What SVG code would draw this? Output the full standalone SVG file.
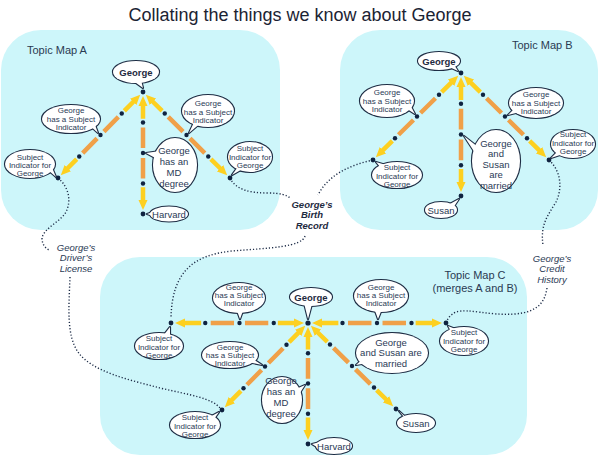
<svg xmlns="http://www.w3.org/2000/svg" width="600" height="460" viewBox="0 0 600 460">
<defs>
<style>
.panel{fill:#cdf6fa}
.title{font-family:"Liberation Sans",Arial,sans-serif;font-size:18px;fill:#1b2333;text-anchor:middle}
.lbl{font-family:"Liberation Sans",Arial,sans-serif;font-size:11px;fill:#2a3a52}
.y{fill:none;stroke:#fdd020;stroke-width:4.5;stroke-dasharray:0 9 13 56 13 9;marker-start:url(#ah);marker-end:url(#ah)}
.o{fill:none;stroke:#f0a048;stroke-width:4.5;stroke-dasharray:0 29 17 8 17 29}
.dt{fill:none;stroke:#1e2d48;stroke-width:1.4;stroke-dasharray:1.2 2}
.pt{fill:#0f2340}
.so{fill:#fff;stroke:#1e2d44;stroke-width:2.2;stroke-linejoin:round}
.sf{fill:#fff;stroke:none}
.t8{font-family:"Liberation Sans",Arial,sans-serif;font-size:8px;fill:#2a3a55;text-anchor:middle}
.t9{font-family:"Liberation Sans",Arial,sans-serif;font-size:9.5px;fill:#2a3a55;text-anchor:middle}
.tb{font-family:"Liberation Sans",Arial,sans-serif;font-size:9.5px;font-weight:bold;fill:#1e2a40;text-anchor:middle}
.ti{font-family:"Liberation Sans",Arial,sans-serif;font-size:9.5px;font-style:italic;fill:#2a3a55;text-anchor:middle}
.tbi{font-family:"Liberation Sans",Arial,sans-serif;font-size:9.5px;font-style:italic;font-weight:bold;fill:#1e2a40;text-anchor:middle}
</style>
<marker id="ah" viewBox="0 0 10 10" refX="14" refY="5" markerWidth="10" markerHeight="10" markerUnits="userSpaceOnUse" orient="auto-start-reverse">
<path d="M0,0.5 L10,5 L0,9.5 z" fill="#fdd020"/>
</marker>
</defs>

<rect width="600" height="460" fill="#fff"/>
<text class="title" x="300" y="21">Collating the things we know about George</text>

<g id="panels">
<rect class="panel" x="1" y="30" width="279" height="200" rx="40"/>
<rect class="panel" x="340" y="30" width="258" height="200" rx="40"/>
<rect class="panel" x="100" y="257" width="427" height="198" rx="40"/>
<text class="lbl" x="27" y="54">Topic Map A</text>
<text class="lbl" x="512" y="49">Topic Map B</text>
<text class="lbl" x="475" y="279" text-anchor="middle">Topic Map C</text>
<text class="lbl" x="475" y="292" text-anchor="middle">(merges A and B)</text>
</g>

<g id="connectors">
<path class="dt" d="M58,178 C68,186 72,200 66,212 C60,222 44,228 42,238 C42,244 45,248 49,250"/>
<path class="dt" d="M70,277 C69,305 66,335 78,352 C92,372 130,380 160,388 C190,395 212,398 220,408"/>
<path class="dt" d="M230,178 C236,190 250,193 268,193 C280,193 287,195 290,198"/>
<path class="dt" d="M373,160 C350,165 328,175 318,195"/>
<path class="dt" d="M305,236 C302,247 270,248 232,251 C195,255 172,270 171,318"/>
<path class="dt" d="M549,160 C562,172 562,190 556,202 C548,215 540,225 543,245"/>
<path class="dt" d="M547,288 C545,302 538,312 515,314 C490,316 468,308 456,312 C450,315 448,318 447,321"/>

<g id="e-a1"><line class="y" pathLength="100" x1="143" y1="92" x2="58" y2="178"/><line class="o" pathLength="100" x1="143" y1="92" x2="58" y2="178"/></g>
<g id="e-a2"><line class="y" pathLength="100" x1="143" y1="92" x2="143" y2="214"/><line class="o" pathLength="100" x1="143" y1="92" x2="143" y2="214"/></g>
<g id="e-a3"><line class="y" pathLength="100" x1="143" y1="92" x2="230" y2="178"/><line class="o" pathLength="100" x1="143" y1="92" x2="230" y2="178"/></g>
<g id="e-b1"><line class="y" pathLength="100" x1="461" y1="73" x2="373" y2="160"/><line class="o" pathLength="100" x1="461" y1="73" x2="373" y2="160"/></g>
<g id="e-b2"><line class="y" pathLength="100" x1="461" y1="73" x2="461" y2="196"/><line class="o" pathLength="100" x1="461" y1="73" x2="461" y2="196"/></g>
<g id="e-b3"><line class="y" pathLength="100" x1="461" y1="73" x2="549" y2="160"/><line class="o" pathLength="100" x1="461" y1="73" x2="549" y2="160"/></g>
<g id="e-c1"><line class="y" pathLength="100" x1="308" y1="323" x2="171" y2="323"/><line class="o" pathLength="100" x1="308" y1="323" x2="171" y2="323"/></g>
<g id="e-c2"><line class="y" pathLength="100" x1="308" y1="323" x2="446" y2="323"/><line class="o" pathLength="100" x1="308" y1="323" x2="446" y2="323"/></g>
<g id="e-c3"><line class="y" pathLength="100" x1="308" y1="323" x2="222" y2="410"/><line class="o" pathLength="100" x1="308" y1="323" x2="222" y2="410"/></g>
<g id="e-c4"><line class="y" pathLength="100" x1="308" y1="323" x2="308" y2="444"/><line class="o" pathLength="100" x1="308" y1="323" x2="308" y2="444"/></g>
<g id="e-c5"><line class="y" pathLength="100" x1="308" y1="323" x2="396" y2="409"/><line class="o" pathLength="100" x1="308" y1="323" x2="396" y2="409"/></g>
</g>

<g id="points" class="pt">
<circle cx="143" cy="92" r="2.4"/><circle cx="58" cy="178" r="2.4"/><circle cx="143" cy="214" r="2.4"/><circle cx="230" cy="178" r="2.4"/>
<circle cx="121.75" cy="113.5" r="2.2"/><circle cx="100.5" cy="135" r="2.2"/><circle cx="79.25" cy="156.5" r="2.2"/>
<circle cx="143" cy="122.5" r="2.2"/><circle cx="143" cy="153" r="2.2"/><circle cx="143" cy="183.5" r="2.2"/>
<circle cx="164.75" cy="113.5" r="2.2"/><circle cx="186.5" cy="135" r="2.2"/><circle cx="208.25" cy="156.5" r="2.2"/>
<circle cx="461" cy="73" r="2.4"/><circle cx="373" cy="160" r="2.4"/><circle cx="461" cy="196" r="2.4"/><circle cx="549" cy="160" r="2.4"/>
<circle cx="439" cy="94.75" r="2.2"/><circle cx="417" cy="116.5" r="2.2"/><circle cx="395" cy="138.25" r="2.2"/>
<circle cx="461" cy="103.75" r="2.2"/><circle cx="461" cy="134.5" r="2.2"/><circle cx="461" cy="165.25" r="2.2"/>
<circle cx="483" cy="94.75" r="2.2"/><circle cx="505" cy="116.5" r="2.2"/><circle cx="527" cy="138.25" r="2.2"/>
<circle cx="308" cy="323" r="2.6"/><circle cx="171" cy="323" r="2.4"/><circle cx="446" cy="323" r="2.4"/><circle cx="222" cy="410" r="2.4"/><circle cx="308" cy="444" r="2.4"/><circle cx="396" cy="409" r="2.4"/>
<circle cx="273.75" cy="323" r="2.2"/><circle cx="239.5" cy="323" r="2.2"/><circle cx="205.25" cy="323" r="2.2"/>
<circle cx="342.5" cy="323" r="2.2"/><circle cx="377" cy="323" r="2.2"/><circle cx="411.5" cy="323" r="2.2"/>
<circle cx="286.5" cy="344.75" r="2.2"/><circle cx="265" cy="366.5" r="2.2"/><circle cx="243.5" cy="388.25" r="2.2"/>
<circle cx="308" cy="353.25" r="2.2"/><circle cx="308" cy="383.5" r="2.2"/><circle cx="308" cy="413.75" r="2.2"/>
<circle cx="330" cy="344.5" r="2.2"/><circle cx="352" cy="366" r="2.2"/><circle cx="374" cy="387.5" r="2.2"/>
</g>

<g id="annotations">
<text class="ti" x="76"><tspan x="76" y="250.5">George’s</tspan><tspan x="76" y="261">Driver’s</tspan><tspan x="76" y="271.5">License</tspan></text>
<text class="tbi" x="312"><tspan x="312" y="207.5">George’s</tspan><tspan x="312" y="218">Birth</tspan><tspan x="312" y="228.5">Record</tspan></text>
<text class="ti" x="552"><tspan x="552" y="261.5">George’s</tspan><tspan x="552" y="272">Credit</tspan><tspan x="552" y="282.5">History</tspan></text>
</g>

<!-- Topic Map A -->
<g id="a-george">
<ellipse class="so" cx="136" cy="72" rx="23" ry="11"/><polygon class="so" points="132,80 141,80 143,88"/>
<ellipse class="sf" cx="136" cy="72" rx="23" ry="11"/><polygon class="sf" points="132,80 141,80 143,88"/>
<text class="tb" x="136" y="75.5">George</text>
</g>
<g id="a-gsi-left">
<ellipse class="so" cx="71" cy="119" rx="29" ry="14"/><polygon class="so" points="88,124 92,117 98,133"/>
<ellipse class="sf" cx="71" cy="119" rx="29" ry="14"/><polygon class="sf" points="88,124 92,117 98,133"/>
<text class="t8"><tspan x="71" y="113">George</tspan><tspan x="71" y="121.5">has a Subject</tspan><tspan x="71" y="130">Indicator</tspan></text>
</g>
<g id="a-si-left">
<ellipse class="so" cx="30" cy="164" rx="25" ry="14"/><polygon class="so" points="48,170 50,163 56,177"/>
<ellipse class="sf" cx="30" cy="164" rx="25" ry="14"/><polygon class="sf" points="48,170 50,163 56,177"/>
<text class="t8"><tspan x="30" y="160">Subject</tspan><tspan x="30" y="168">Indicator for</tspan><tspan x="30" y="176">George</tspan></text>
</g>
<g id="a-md">
<ellipse class="so" cx="175" cy="165" rx="22" ry="27"/><polygon class="so" points="160,151 159,160 146,153"/>
<ellipse class="sf" cx="175" cy="165" rx="22" ry="27"/><polygon class="sf" points="160,151 159,160 146,153"/>
<text class="t9"><tspan x="174" y="154">George</tspan><tspan x="174" y="165">has an</tspan><tspan x="174" y="176">MD</tspan><tspan x="174" y="187">degree</tspan></text>
</g>
<g id="a-gsi-right">
<ellipse class="so" cx="208" cy="111" rx="26" ry="16"/><polygon class="so" points="196,118 203,121 189,133"/>
<ellipse class="sf" cx="208" cy="111" rx="26" ry="16"/><polygon class="sf" points="196,118 203,121 189,133"/>
<text class="t8"><tspan x="208" y="106">George</tspan><tspan x="208" y="114.5">has a Subject</tspan><tspan x="208" y="123">Indicator</tspan></text>
</g>
<g id="a-si-right">
<ellipse class="so" cx="250" cy="157" rx="22" ry="15"/><polygon class="so" points="240,164 246,167 232,175"/>
<ellipse class="sf" cx="250" cy="157" rx="22" ry="15"/><polygon class="sf" points="240,164 246,167 232,175"/>
<text class="t8"><tspan x="250" y="151">Subject</tspan><tspan x="250" y="159.5">Indicator for</tspan><tspan x="250" y="168">George</tspan></text>
</g>
<g id="a-harvard">
<ellipse class="so" cx="169" cy="214" rx="19" ry="7.5"/><polygon class="so" points="156,211 156,217 147,214"/>
<ellipse class="sf" cx="169" cy="214" rx="19" ry="7.5"/><polygon class="sf" points="156,211 156,217 147,214"/>
<text class="t9" x="169" y="217.5">Harvard</text>
</g>

<!-- Topic Map B -->
<g id="b-george">
<ellipse class="so" cx="439" cy="61" rx="21" ry="9"/><polygon class="so" points="447,66 453,63 458,71"/>
<ellipse class="sf" cx="439" cy="61" rx="21" ry="9"/><polygon class="sf" points="447,66 453,63 458,71"/>
<text class="tb" x="439" y="64.5">George</text>
</g>
<g id="b-gsi-left">
<ellipse class="so" cx="387" cy="101" rx="27" ry="16"/><polygon class="so" points="404,107 408,101 415,114"/>
<ellipse class="sf" cx="387" cy="101" rx="27" ry="16"/><polygon class="sf" points="404,107 408,101 415,114"/>
<text class="t8"><tspan x="387" y="95">George</tspan><tspan x="387" y="103.5">has a Subject</tspan><tspan x="387" y="112">Indicator</tspan></text>
</g>
<g id="b-si-low">
<ellipse class="so" cx="397" cy="175" rx="25" ry="13"/><polygon class="so" points="381,168 386,165 376,162"/>
<ellipse class="sf" cx="397" cy="175" rx="25" ry="13"/><polygon class="sf" points="381,168 386,165 376,162"/>
<text class="t8"><tspan x="397" y="170">Subject</tspan><tspan x="397" y="178.5">Indicator for</tspan><tspan x="397" y="187">George</tspan></text>
</g>
<g id="b-married">
<ellipse class="so" cx="496" cy="161" rx="24" ry="31"/><polygon class="so" points="478,147 477,156 464,136"/>
<ellipse class="sf" cx="496" cy="161" rx="24" ry="31"/><polygon class="sf" points="478,147 477,156 464,136"/>
<text class="t9"><tspan x="496" y="146.5">George</tspan><tspan x="496" y="157">and</tspan><tspan x="496" y="167.5">Susan</tspan><tspan x="496" y="178">are</tspan><tspan x="496" y="188.5">married</tspan></text>
</g>
<g id="b-gsi-right">
<ellipse class="so" cx="536" cy="103" rx="27" ry="15"/><polygon class="so" points="515,108 520,112 508,115"/>
<ellipse class="sf" cx="536" cy="103" rx="27" ry="15"/><polygon class="sf" points="515,108 520,112 508,115"/>
<text class="t8"><tspan x="536" y="97">George</tspan><tspan x="536" y="105.5">has a Subject</tspan><tspan x="536" y="114">Indicator</tspan></text>
</g>
<g id="b-si-right">
<ellipse class="so" cx="573" cy="144" rx="22" ry="14"/><polygon class="so" points="559,150 563,154 551,158"/>
<ellipse class="sf" cx="573" cy="144" rx="22" ry="14"/><polygon class="sf" points="559,150 563,154 551,158"/>
<text class="t8"><tspan x="573" y="137">Subject</tspan><tspan x="573" y="145.5">Indicator for</tspan><tspan x="573" y="154">George</tspan></text>
</g>
<g id="b-susan">
<ellipse class="so" cx="441" cy="210" rx="16" ry="8"/><polygon class="so" points="448,205 453,208 459,199"/>
<ellipse class="sf" cx="441" cy="210" rx="16" ry="8"/><polygon class="sf" points="448,205 453,208 459,199"/>
<text class="t9" x="441" y="213.5">Susan</text>
</g>

<!-- Topic Map C -->
<g id="c-george">
<ellipse class="so" cx="311" cy="297" rx="21" ry="9"/><polygon class="so" points="304,303 312,304 308,319"/>
<ellipse class="sf" cx="311" cy="297" rx="21" ry="9"/><polygon class="sf" points="304,303 312,304 308,319"/>
<text class="tb" x="311" y="300.5">George</text>
</g>
<g id="c-gsi-tl">
<ellipse class="so" cx="239" cy="298" rx="26" ry="15"/><polygon class="so" points="236,308 244,308 240,319"/>
<ellipse class="sf" cx="239" cy="298" rx="26" ry="15"/><polygon class="sf" points="236,308 244,308 240,319"/>
<text class="t8"><tspan x="239" y="290">George</tspan><tspan x="239" y="298">has a Subject</tspan><tspan x="239" y="306">Indicator</tspan></text>
</g>
<g id="c-si-left">
<ellipse class="so" cx="159" cy="346" rx="24" ry="13"/><polygon class="so" points="163,336 170,338 170,327"/>
<ellipse class="sf" cx="159" cy="346" rx="24" ry="13"/><polygon class="sf" points="163,336 170,338 170,327"/>
<text class="t8"><tspan x="159" y="341">Subject</tspan><tspan x="159" y="349.5">Indicator for</tspan><tspan x="159" y="358">George</tspan></text>
</g>
<g id="c-gsi-ml">
<ellipse class="so" cx="230" cy="355" rx="28" ry="13"/><polygon class="so" points="250,357 248,362 262,365"/>
<ellipse class="sf" cx="230" cy="355" rx="28" ry="13"/><polygon class="sf" points="250,357 248,362 262,365"/>
<text class="t8"><tspan x="230" y="350">George</tspan><tspan x="230" y="358">has a Subject</tspan><tspan x="230" y="366">Indicator</tspan></text>
</g>
<g id="c-md">
<ellipse class="so" cx="282" cy="400" rx="20" ry="23"/><polygon class="so" points="296,389 298,396 305,385"/>
<ellipse class="sf" cx="282" cy="400" rx="20" ry="23"/><polygon class="sf" points="296,389 298,396 305,385"/>
<text class="t9"><tspan x="281" y="383.5">George</tspan><tspan x="281" y="395">has an</tspan><tspan x="281" y="406">MD</tspan><tspan x="281" y="416.5">degree</tspan></text>
</g>
<g id="c-si-bl">
<ellipse class="so" cx="195" cy="425" rx="25" ry="13"/><polygon class="so" points="208,418 212,422 219,412"/>
<ellipse class="sf" cx="195" cy="425" rx="25" ry="13"/><polygon class="sf" points="208,418 212,422 219,412"/>
<text class="t8"><tspan x="195" y="420">Subject</tspan><tspan x="195" y="428.5">Indicator for</tspan><tspan x="195" y="437">George</tspan></text>
</g>
<g id="c-harvard">
<ellipse class="so" cx="334" cy="446" rx="18" ry="8"/><polygon class="so" points="320,442 320,449 312,444"/>
<ellipse class="sf" cx="334" cy="446" rx="18" ry="8"/><polygon class="sf" points="320,442 320,449 312,444"/>
<text class="t9" x="334" y="449.5">Harvard</text>
</g>
<g id="c-gsi-tr">
<ellipse class="so" cx="381" cy="296" rx="27" ry="16"/><polygon class="so" points="374,308 382,309 378,319"/>
<ellipse class="sf" cx="381" cy="296" rx="27" ry="16"/><polygon class="sf" points="374,308 382,309 378,319"/>
<text class="t8"><tspan x="381" y="290">George</tspan><tspan x="381" y="298">has a Subject</tspan><tspan x="381" y="306">Indicator</tspan></text>
</g>
<g id="c-si-right">
<ellipse class="so" cx="464" cy="341" rx="24" ry="14"/><polygon class="so" points="452,333 458,330 448,326"/>
<ellipse class="sf" cx="464" cy="341" rx="24" ry="14"/><polygon class="sf" points="452,333 458,330 448,326"/>
<text class="t8"><tspan x="464" y="335">Subject</tspan><tspan x="464" y="343.5">Indicator for</tspan><tspan x="464" y="352">George</tspan></text>
</g>
<g id="c-married">
<ellipse class="so" cx="392" cy="353" rx="36" ry="20"/><polygon class="so" points="365,357 368,363 356,365"/>
<ellipse class="sf" cx="392" cy="353" rx="36" ry="20"/><polygon class="sf" points="365,357 368,363 356,365"/>
<text class="t9"><tspan x="391" y="345.5">George</tspan><tspan x="391" y="356">and Susan are</tspan><tspan x="391" y="366.5">married</tspan></text>
</g>
<g id="c-susan">
<ellipse class="so" cx="416" cy="423" rx="19" ry="9"/><polygon class="so" points="404,417 409,420 399,411"/>
<ellipse class="sf" cx="416" cy="423" rx="19" ry="9"/><polygon class="sf" points="404,417 409,420 399,411"/>
<text class="t9" x="416" y="426.5">Susan</text>
</g>
</svg>
